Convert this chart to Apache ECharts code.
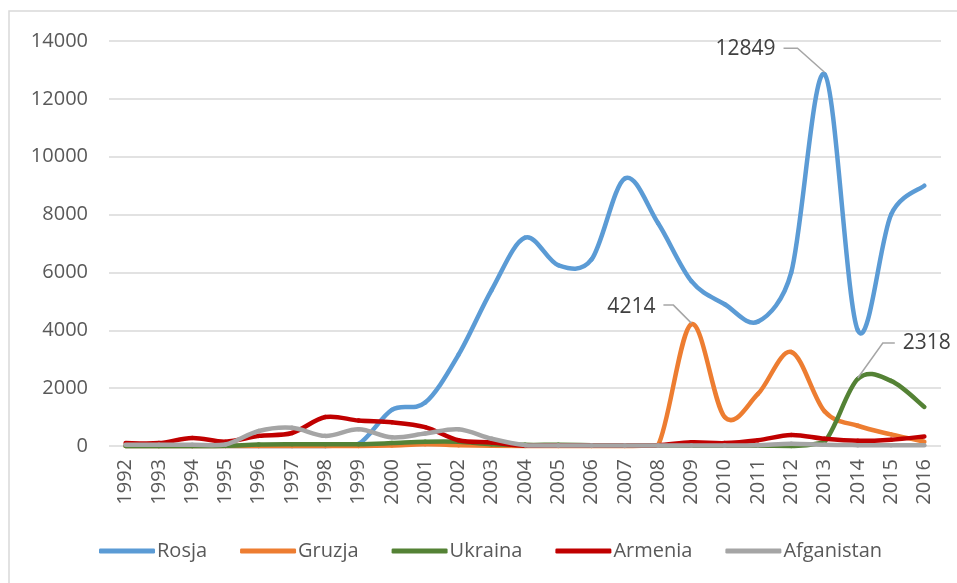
<!DOCTYPE html>
<html>
<head>
<meta charset="utf-8">
<script src="https://cdn.jsdelivr.net/npm/echarts@6/dist/echarts.min.js"></script>
<style>html,body{margin:0;padding:0;background:#fff;}#c{width:957px;height:583px;}</style>
</head>
<body>
<div id="c"></div>
<script>
const years = ['1992','1993','1994','1995','1996','1997','1998','1999','2000','2001','2002','2003','2004','2005','2006','2007','2008','2009','2010','2011','2012','2013','2014','2015','2016'];
const rosja      = [0,0,0,0,0,0,0,70,1250,1500,3150,5400,7200,6250,6450,9250,7700,5700,4900,4300,6000,12849,4000,8000,9000];
const gruzja     = [0,0,0,0,0,0,0,0,20,60,30,10,0,0,0,0,30,4214,1000,1800,3250,1200,700,400,150];
const ukraina    = [0,0,0,10,50,60,60,60,100,150,150,60,40,40,30,20,20,10,10,10,0,150,2318,2250,1350];
const armenia    = [100,100,280,150,350,450,1000,880,820,650,200,120,10,20,20,20,30,130,100,200,380,250,180,220,330];
const afganistan = [40,40,40,50,520,630,350,580,300,430,580,250,30,20,20,20,20,20,20,30,80,40,30,30,30];
const yTicks = [0,2000,4000,6000,8000,10000,12000,14000];
const seriesNames = ['Rosja','Gruzja','Ukraina','Armenia','Afganistan'];
const annotated = [['Rosja','2013'],['Gruzja','2009'],['Ukraina','2014']];

const seriesData = {Rosja: rosja, Gruzja: gruzja, Ukraina: ukraina, Armenia: armenia, Afganistan: afganistan};
const colors = {Rosja:'#5B9BD5', Gruzja:'#ED7D31', Ukraina:'#548235', Armenia:'#C00000', Afganistan:'#A5A5A5'};
// label layout relative to the annotated point: text anchor offset, alignment, leader polyline offsets
const annLayout = [
  {dx:-49, dy:-25, align:'right', line:[[-41,-26],[-27,-26],[0,-2]]},
  {dx:-36, dy:-17, align:'right', line:[[-28,-19],[-18,-19],[0,-1]]},
  {dx:45,  dy:-36, align:'left',  line:[[37,-36],[25,-36],[0,-1]]}
];
const FONT = '"Open Sans", "Noto Sans", sans-serif';
const TEXT = '#595959';

// Smoothed line (spreadsheet-like Bezier smoothing) drawn segment by segment through the axes
function smoothRender(arr, color) {
  const n = arr.length;
  const idx = k => Math.max(0, Math.min(n - 1, k));
  return function (params, api) {
    const i = params.dataIndex;
    if (i >= n - 1) return null;
    const P = k => api.coord([idx(k), arr[idx(k)]]);
    const base = api.coord([0, 0])[1];
    const p0 = P(i - 1), p1 = P(i), p2 = P(i + 1), p3 = P(i + 2);
    const seg = Math.hypot(p2[0] - p1[0], p2[1] - p1[1]);
    function tangent(a, b) {
      let tx = (b[0] - a[0]) / 6, ty = (b[1] - a[1]) / 6;
      const len = Math.hypot(tx, ty), lim = seg / 2;
      if (len > lim && len > 0) { tx *= lim / len; ty *= lim / len; }
      return [tx, ty];
    }
    const t1 = tangent(p0, p2), t2 = tangent(p1, p3);
    const cy1 = Math.min(base, p1[1] + t1[1]);
    const cy2 = Math.min(base, p2[1] - t2[1]);
    return {
      type: 'bezierCurve',
      shape: {
        x1: p1[0], y1: p1[1], x2: p2[0], y2: p2[1],
        cpx1: p1[0] + t1[0], cpy1: cy1,
        cpx2: p2[0] - t2[0], cpy2: cy2
      },
      style: {stroke: color, lineWidth: 4.5, fill: null, lineCap: 'round'},
      silent: true
    };
  };
}

const chart = echarts.init(document.getElementById('c'), null, {renderer:'canvas'});
const lineSeries = seriesNames.map((n, si) => ({
  name: n, type: 'custom', data: seriesData[n].map((v, i) => [i, v]),
  encode: {x: 0, y: 1}, renderItem: smoothRender(seriesData[n], colors[n]),
  itemStyle: {color: colors[n]}, z: 2 + si, clip: false
}));
const annSeries = {
  type: 'custom', name: 'ann', silent: true, z: 10,
  data: annotated.map(([n, y]) => [years.indexOf(y), seriesData[n][years.indexOf(y)]]),
  encode: {x: 0, y: 1},
  renderItem: function (params, api) {
    const L = annLayout[params.dataIndex];
    const p = api.coord([api.value(0), api.value(1)]);
    return {
      type: 'group',
      children: [
        {type: 'polyline', shape: {points: L.line.map(q => [p[0] + q[0], p[1] + q[1]])},
         style: {stroke: '#A6A6A6', lineWidth: 1.5, fill: null}},
        {type: 'text', x: p[0] + L.dx, y: p[1] + L.dy,
         style: {text: String(api.value(1)), font: '21px ' + FONT, fill: '#404040', align: L.align, verticalAlign: 'middle'}}
      ]
    };
  }
};
chart.setOption({
  animation: false,
  backgroundColor: '#fff',
  textStyle: {fontFamily: FONT},
  graphic: [{type:'rect', shape:{x:9, y:11, width:1200, height:1000}, style:{fill:'none', stroke:'#D9D9D9', lineWidth:1.5}, silent:true}],
  grid: {left: 109, right: 16, top: 41, bottom: 137},
  legend: {
    data: seriesNames, left: 94, top: 536, icon: 'roundRect', itemWidth: 56, itemHeight: 5, itemGap: 33,
    textStyle: {fontFamily: FONT, fontSize: 20, color: TEXT, padding: [0, 0, 0, -3]}
  },
  xAxis: {
    type: 'category', data: years, boundaryGap: true,
    axisLine: {show: false}, axisTick: {show: false},
    axisLabel: {interval: 0, rotate: 90, margin: 13, fontFamily: FONT, fontSize: 20, color: TEXT}
  },
  yAxis: {
    type: 'value', min: yTicks[0], max: yTicks[yTicks.length-1], interval: 2000,
    axisLine: {show: false}, axisTick: {show: false},
    axisLabel: {margin: 21, fontFamily: FONT, fontSize: 20, color: TEXT, formatter: v => String(v)},
    splitLine: {lineStyle: {color: '#D9D9D9', width: 1.5}}
  },
  series: [...lineSeries, annSeries]
});
</script>
</body>
</html>
